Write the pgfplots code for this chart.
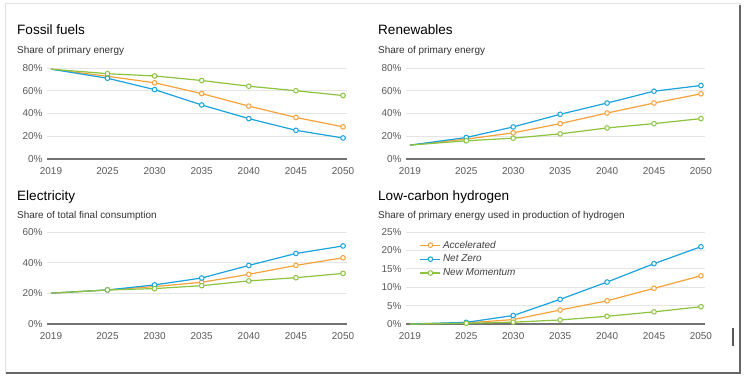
\documentclass[border=0pt]{standalone}
\usepackage{pgfplots}
\pgfplotsset{compat=1.18}
\usepackage{fontspec}
\setmainfont{Liberation Sans}
\definecolor{cOr}{HTML}{F6A23A}
\definecolor{cBl}{HTML}{1AA3DD}
\definecolor{cGr}{HTML}{8CC43F}
\definecolor{tick}{HTML}{5A5A5A}
\pgfplotsset{
  panel/.style={
    scale only axis, xmin=2018.6, xmax=2050.4, ymin=0,
    axis x line*=bottom, axis y line*=left,
    y axis line style={draw=none},
    x axis line style={draw=black!55, line width=1.3bp, -},
    ymajorgrids, grid style={black!10, line width=0.8bp},
    major tick length=0pt,
    xtick={2019,2025,2030,2035,2040,2045,2050},
    xticklabels={2019,2025,2030,2035,2040,2045,2050},
    tick label style={font=\fontsize{10}{12}\selectfont, text=tick},
    xticklabel style={anchor=north, inner sep=0pt, yshift=-8.5bp},
    yticklabel style={anchor=east, inner sep=0pt, xshift=-4.5bp},
    every axis plot/.append style={line width=1.2bp, mark=*, mark size=2.3bp,
       mark options={fill=white, line width=1bp}, mark indices={2,3,4,5,6,7}},
  },
}
\begin{document}
\begin{tikzpicture}
\useasboundingbox (0,0) rectangle (746bp,-377bp);
% frame
\fill[white] (5bp,-3bp) rectangle (740bp,-373bp);
\draw[black!12, line width=0.8bp] (5bp,-3bp) rectangle (740bp,-373bp);
\draw[black!60, line width=1.6bp] (6bp,-373bp) -- (740bp,-373bp) -- (740bp,-5bp);
\draw[black!65, line width=1.4bp] (733bp,-328bp) -- (733bp,-346bp);
% titles
\node[anchor=base west, inner sep=0pt, font=\fontsize{13.6}{15}\selectfont] at (17bp,-34bp) {Fossil fuels};
\node[anchor=base west, inner sep=0pt, font=\fontsize{10}{12}\selectfont, text=black!80] at (17bp,-53bp) {Share of primary energy};
\node[anchor=base west, inner sep=0pt, font=\fontsize{13.6}{15}\selectfont] at (378bp,-34bp) {Renewables};
\node[anchor=base west, inner sep=0pt, font=\fontsize{10}{12}\selectfont, text=black!80] at (378bp,-53bp) {Share of primary energy};
\node[anchor=base west, inner sep=0pt, font=\fontsize{13.6}{15}\selectfont] at (17bp,-200bp) {Electricity};
\node[anchor=base west, inner sep=0pt, font=\fontsize{10}{12}\selectfont, text=black!80] at (17bp,-218bp) {Share of total final consumption};
\node[anchor=base west, inner sep=0pt, font=\fontsize{13.6}{15}\selectfont] at (378bp,-200bp) {Low-carbon hydrogen};
\node[anchor=base west, inner sep=0pt, font=\fontsize{10}{12}\selectfont, text=black!80] at (378bp,-218bp) {Share of primary energy used in production of hydrogen};

% Fossil fuels
\begin{axis}[panel, at={(47.2bp,-159bp)}, anchor=south west, width=299.6bp, height=91bp,
  ymax=80, ytick={0,20,40,60,80}, yticklabels={0\%,20\%,40\%,60\%,80\%}]
\addplot[cOr] coordinates {(2019,79) (2025,72.7) (2030,67) (2035,57.5) (2040,46.5) (2045,36.5) (2050,28.3)};
\addplot[cBl] coordinates {(2019,79) (2025,71) (2030,61) (2035,47.5) (2040,35.5) (2045,25.2) (2050,18.5)};
\addplot[cGr] coordinates {(2019,79) (2025,75) (2030,73) (2035,69) (2040,64) (2045,60) (2050,55.8)};
\end{axis}

% Renewables
\begin{axis}[panel, at={(406.2bp,-159bp)}, anchor=south west, width=298.5bp, height=91bp,
  ymax=80, ytick={0,20,40,60,80}, yticklabels={0\%,20\%,40\%,60\%,80\%}]
\addplot[cOr] coordinates {(2019,12.2) (2025,17.5) (2030,23) (2035,31.1) (2040,40.4) (2045,49.2) (2050,57.3)};
\addplot[cBl] coordinates {(2019,12.2) (2025,18.9) (2030,28.2) (2035,39.3) (2040,49.2) (2045,59.6) (2050,64.6)};
\addplot[cGr] coordinates {(2019,12.2) (2025,16) (2030,18.3) (2035,22.1) (2040,27.3) (2045,31.1) (2050,35.5)};
\end{axis}

% Electricity
\begin{axis}[panel, at={(47.2bp,-324bp)}, anchor=south west, width=299.6bp, height=92bp,
  ymax=60, ytick={0,20,40,60}, yticklabels={0\%,20\%,40\%,60\%}]
\addplot[cOr] coordinates {(2019,20.1) (2025,22.2) (2030,24.4) (2035,27.2) (2040,32.4) (2045,38.2) (2050,43.2)};
\addplot[cBl] coordinates {(2019,20.1) (2025,22.2) (2030,25.5) (2035,30) (2040,38.2) (2045,46) (2050,50.9)};
\addplot[cGr] coordinates {(2019,20.1) (2025,22.2) (2030,23.1) (2035,25) (2040,28.1) (2045,30.2) (2050,33)};
\end{axis}

% Hydrogen
\begin{axis}[panel, at={(406.2bp,-324bp)}, anchor=south west, width=298.5bp, height=92bp,
  ymax=25, ytick={0,5,10,15,20,25}, yticklabels={0\%,5\%,10\%,15\%,20\%,25\%},
  legend cell align=left,
  legend style={draw=none, fill=none, at={(0.035,0.95)}, anchor=north west,
    font=\itshape\fontsize{10}{12}\selectfont, text=black!75, row sep=1.5bp,
    /tikz/every even column/.append style={column sep=2bp}},
  legend image code/.code={
    \draw[line width=1.2bp] (0bp,0bp) -- (20bp,0bp);
    \draw[line width=1bp, fill=white] (10bp,0bp) circle (2.3bp);}]
\addplot[cOr] coordinates {(2019,0) (2025,0.3) (2030,1.2) (2035,3.8) (2040,6.3) (2045,9.7) (2050,13.1)};
\addplot[cBl] coordinates {(2019,0) (2025,0.45) (2030,2.3) (2035,6.7) (2040,11.4) (2045,16.4) (2050,21)};
\addplot[cGr] coordinates {(2019,0) (2025,0.2) (2030,0.5) (2035,1.1) (2040,2.1) (2045,3.3) (2050,4.7)};
\legend{Accelerated, Net Zero, New Momentum}
\end{axis}
\end{tikzpicture}
\end{document}
